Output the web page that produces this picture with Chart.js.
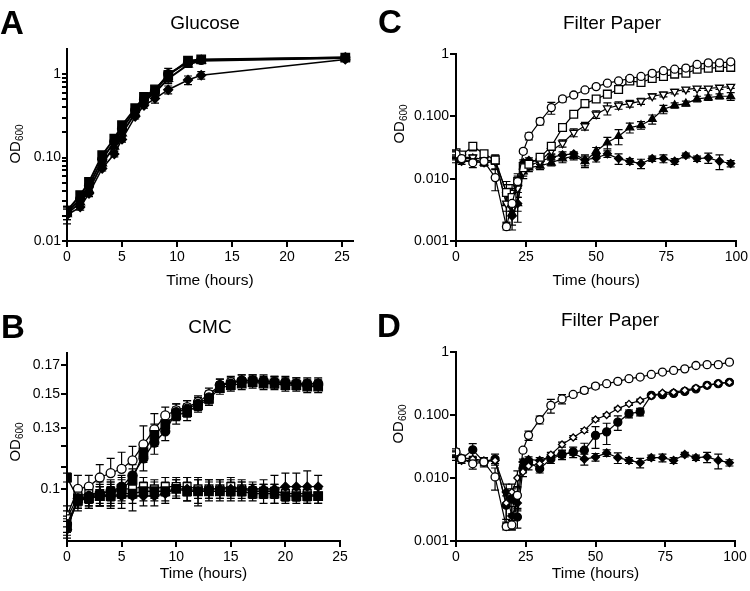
<!DOCTYPE html>
<html>
<head>
<meta charset="utf-8">
<script src="https://cdn.jsdelivr.net/npm/chart.js@4.4.1/dist/chart.umd.min.js"></script>
<style>
  body { margin: 0; background: #fff; width: 750px; height: 591px; position: relative; overflow: hidden;
         font-family: "Liberation Sans", Arial, sans-serif; color: #000; }
  canvas { position: absolute; }
  .letter { position: absolute; font-weight: bold; font-size: 33px; line-height: 1; }
  .title { position: absolute; font-size: 19px; transform: translate(-50%, -50%); white-space: nowrap; }
  .ylab { position: absolute; font-size: 15px; transform: translate(-50%, -50%) rotate(-90deg); white-space: nowrap; }
  .ylab sub { font-size: 10px; vertical-align: -3px; }
</style>
</head>
<body>
<canvas id="chartA" width="375" height="295" style="left:0;top:0"></canvas>
<canvas id="chartC" width="375" height="295" style="left:375px;top:0"></canvas>
<canvas id="chartB" width="375" height="296" style="left:0;top:295px"></canvas>
<canvas id="chartD" width="375" height="296" style="left:375px;top:295px"></canvas>

<div class="letter" style="left:0;top:6px">A</div>
<div class="letter" style="left:378px;top:5px">C</div>
<div class="letter" style="left:1px;top:310px">B</div>
<div class="letter" style="left:377px;top:309px">D</div>
<div class="title" style="left:205px;top:23px">Glucose</div>
<div class="title" style="left:612px;top:23px">Filter Paper</div>
<div class="title" style="left:210px;top:327px">CMC</div>
<div class="title" style="left:610px;top:320px">Filter Paper</div>
<div class="ylab" style="left:15px;top:144px">OD<sub>600</sub></div>
<div class="ylab" style="left:399px;top:124px">OD<sub>600</sub></div>
<div class="ylab" style="left:15px;top:442px">OD<sub>600</sub></div>
<div class="ylab" style="left:398px;top:424px">OD<sub>600</sub></div>

<script>
// ---------- A: Glucose ----------
const tA = [0, 1.2, 2, 3.2, 4.3, 5, 6.2, 7, 8, 9.2, 11, 12.2, 25.3];
const aSquares = [0.023, 0.0355, 0.051, 0.107, 0.169, 0.244, 0.39, 0.535, 0.655, 0.97, 1.45, 1.5, 1.58];
const aSquaresErr = [0.003, 0.003, 0.004, 0.008, 0.015, 0.02, 0.03, 0.05, 0.06, 0.2, 0.1, 0.08, 0.1];
const aCircles = [0.022, 0.032, 0.046, 0.095, 0.155, 0.22, 0.37, 0.5, 0.63, 1.0, 1.38, 1.48, 1.58];
const aCirclesErr = [0.004, 0.003, 0.004, 0.006, 0.01, 0.015, 0.03, 0.04, 0.05, 0.1, 0.08, 0.07, 0.08];
const aTriangles = [0.021, 0.029, 0.041, 0.085, 0.135, 0.195, 0.34, 0.47, 0.6, 0.88, 1.3, 1.45, 1.56];
const aTrianglesErr = [0.003, 0.004, 0.005, 0.008, 0.012, 0.018, 0.03, 0.04, 0.05, 0.08, 0.1, 0.08, 0.08];
const aDiamonds = [0.0205, 0.0255, 0.037, 0.074, 0.11, 0.165, 0.31, 0.42, 0.51, 0.65, 0.85, 0.97, 1.5];
const aDiamondsErr = [0.0045, 0.002, 0.003, 0.005, 0.008, 0.012, 0.02, 0.03, 0.06, 0.07, 0.1, 0.1, 0.06];
const xTicksA = [0, 5, 10, 15, 20, 25];
const yTicksA = [0.01, 0.02, 0.03, 0.04, 0.05, 0.06, 0.07, 0.08, 0.09, 0.1, 0.2, 0.3, 0.4, 0.5, 0.6, 0.7, 0.8, 0.9, 1];
const yLabelsA = ['0.01', '', '', '', '', '', '', '', '', '0.10', '', '', '', '', '', '', '', '', '1'];

// ---------- B: CMC ----------
const tB = [0, 1, 2, 3, 4, 5, 6, 7, 8, 9, 10, 11, 12, 13, 14, 15, 16, 17, 18, 19, 20, 21, 22, 23];
const bOpenCircles = [0.089, 0.1, 0.101, 0.105, 0.107, 0.109, 0.113, 0.121, 0.129, 0.137, 0.14, 0.142, 0.145, 0.15, 0.156, 0.158, 0.159, 0.159, 0.158, 0.158, 0.157, 0.157, 0.156, 0.156];
const bOpenCirclesErr = [0.004, 0.006, 0.005, 0.006, 0.007, 0.008, 0.007, 0.01, 0.009, 0.005, 0.004, 0.004, 0.004, 0.004, 0.004, 0.004, 0.004, 0.004, 0.004, 0.004, 0.004, 0.004, 0.004, 0.004];
const bFilledCircles = [0.086, 0.096, 0.097, 0.098, 0.099, 0.101, 0.106, 0.114, 0.122, 0.128, 0.139, 0.141, 0.144, 0.148, 0.156, 0.157, 0.159, 0.159, 0.159, 0.158, 0.158, 0.157, 0.157, 0.157];
const bFilledCirclesErr = [0.003, 0.004, 0.004, 0.005, 0.005, 0.005, 0.005, 0.006, 0.006, 0.005, 0.005, 0.005, 0.004, 0.004, 0.004, 0.004, 0.004, 0.004, 0.004, 0.004, 0.004, 0.004, 0.004, 0.004];
const bFilledSquares = [0.085, 0.095, 0.096, 0.097, 0.098, 0.1, 0.104, 0.117, 0.126, 0.132, 0.137, 0.139, 0.143, 0.147, 0.154, 0.156, 0.157, 0.158, 0.157, 0.157, 0.156, 0.156, 0.155, 0.155];
const bFilledSquaresErr = [0.003, 0.004, 0.004, 0.004, 0.005, 0.005, 0.005, 0.005, 0.006, 0.005, 0.005, 0.005, 0.004, 0.004, 0.004, 0.004, 0.004, 0.004, 0.004, 0.004, 0.004, 0.004, 0.004, 0.004];
const bFlatOpen = [0.088, 0.097, 0.098, 0.098, 0.099, 0.1, 0.1, 0.101, 0.1, 0.101, 0.101, 0.101, 0.1, 0.1, 0.1, 0.101, 0.1, 0.099, 0.099, 0.099, 0.098, 0.098, 0.098, 0.097];
const bFlatOpenErr = [0.003, 0.004, 0.004, 0.004, 0.004, 0.004, 0.004, 0.004, 0.004, 0.004, 0.004, 0.004, 0.004, 0.004, 0.004, 0.004, 0.003, 0.003, 0.003, 0.003, 0.003, 0.003, 0.003, 0.003];
const bFlatFilled = [0.105, 0.096, 0.096, 0.097, 0.097, 0.098, 0.098, 0.099, 0.099, 0.099, 0.1, 0.099, 0.099, 0.099, 0.099, 0.099, 0.099, 0.098, 0.098, 0.098, 0.097, 0.097, 0.097, 0.097];
const bFlatFilledErr = [0.002, 0.004, 0.004, 0.004, 0.004, 0.004, 0.004, 0.004, 0.004, 0.004, 0.004, 0.004, 0.005, 0.004, 0.004, 0.004, 0.004, 0.003, 0.004, 0.004, 0.003, 0.003, 0.003, 0.003];
const bFlatDiamonds = [0.084, 0.096, 0.097, 0.097, 0.097, 0.097, 0.097, 0.097, 0.097, 0.098, 0.1, 0.1, 0.099, 0.1, 0.1, 0.1, 0.1, 0.1, 0.1, 0.1, 0.101, 0.101, 0.101, 0.101];
const bFlatDiamondsErr = [0.003, 0.004, 0.004, 0.004, 0.005, 0.005, 0.006, 0.004, 0.004, 0.004, 0.004, 0.005, 0.006, 0.004, 0.004, 0.004, 0.004, 0.003, 0.004, 0.006, 0.006, 0.006, 0.007, 0.005];
const xTicksB = [0, 5, 10, 15, 20, 25];
const yTicksB = [0.1, 0.11, 0.12, 0.13, 0.15, 0.17];
const yLabelsB = ['0.1', '', '', '0.13', '0.15', '0.17'];

// ---------- C and D: Filter Paper ----------
const tC = [0, 2, 6, 10, 14, 18, 20, 22, 24, 26, 30, 34, 38, 42, 46, 50, 54, 58, 62, 66, 70, 74, 78, 82, 86, 90, 94, 98];
const cOpenCircles = [0.025, 0.021, 0.018, 0.019, 0.0104, 0.0017, 0.004, 0.009, 0.0275, 0.048, 0.083, 0.138, 0.19, 0.22, 0.265, 0.3, 0.34, 0.37, 0.405, 0.436, 0.49, 0.54, 0.57, 0.595, 0.68, 0.72, 0.72, 0.75];
const cOpenCirclesErr = [0.003, 0.002, 0.003, 0.002, 0.004, 0.0002, 0.001, 0.002, 0.002, 0.006, 0.01, 0.03, 0.02, 0.015, 0.02, 0.02, 0.02, 0.02, 0.02, 0.02, 0.02, 0.03, 0.02, 0.02, 0.03, 0.03, 0.02, 0.03];
const cOpenSquares = [0.026, 0.024, 0.033, 0.025, 0.02, 0.006, 0.005, 0.009, 0.015, 0.017, 0.022, 0.033, 0.066, 0.108, 0.16, 0.19, 0.227, 0.27, 0.37, 0.35, 0.405, 0.436, 0.476, 0.49, 0.57, 0.59, 0.61, 0.61];
const cOpenSquaresErr = [0.003, 0.003, 0.005, 0.003, 0.003, 0.003, 0.002, 0.003, 0.003, 0.002, 0.002, 0.003, 0.005, 0.01, 0.01, 0.01, 0.015, 0.02, 0.02, 0.02, 0.02, 0.02, 0.02, 0.02, 0.03, 0.03, 0.03, 0.03];
const cOpenTriangles = [0.024, 0.022, 0.022, 0.02, 0.019, 0.004, 0.006, 0.007, 0.013, 0.016, 0.019, 0.028, 0.037, 0.055, 0.07, 0.108, 0.135, 0.15, 0.16, 0.175, 0.21, 0.225, 0.25, 0.27, 0.28, 0.28, 0.29, 0.3];
const cOpenTrianglesErr = [0.003, 0.002, 0.002, 0.002, 0.002, 0.002, 0.002, 0.002, 0.002, 0.002, 0.002, 0.003, 0.005, 0.008, 0.01, 0.015, 0.03, 0.02, 0.02, 0.02, 0.02, 0.02, 0.02, 0.02, 0.02, 0.02, 0.02, 0.02];
const cFilledTriangles = [0.022, 0.021, 0.021, 0.018, 0.019, 0.004, 0.0028, 0.004, 0.013, 0.015, 0.016, 0.018, 0.021, 0.023, 0.019, 0.0276, 0.038, 0.048, 0.066, 0.072, 0.09, 0.13, 0.15, 0.16, 0.19, 0.2, 0.21, 0.21];
const cFilledTrianglesErr = [0.002, 0.002, 0.002, 0.002, 0.005, 0.002, 0.001, 0.002, 0.003, 0.002, 0.002, 0.002, 0.003, 0.003, 0.004, 0.004, 0.008, 0.013, 0.012, 0.01, 0.015, 0.02, 0.015, 0.015, 0.02, 0.02, 0.02, 0.03];
const cDiamonds = [0.02, 0.019, 0.019, 0.018, 0.019, 0.006, 0.0025, 0.004, 0.018, 0.0196, 0.019, 0.022, 0.024, 0.025, 0.02, 0.0215, 0.025, 0.021, 0.019, 0.0175, 0.021, 0.021, 0.019, 0.0236, 0.021, 0.0216, 0.019, 0.0175];
const cDiamondsErr = [0.002, 0.002, 0.002, 0.002, 0.002, 0.002, 0.001, 0.001, 0.002, 0.002, 0.002, 0.002, 0.003, 0.002, 0.004, 0.003, 0.003, 0.004, 0.002, 0.003, 0.002, 0.003, 0.002, 0.002, 0.002, 0.004, 0.005, 0.002];

const dOpenCircles = [0.026, 0.0203, 0.0168, 0.018, 0.0104, 0.0017, 0.0018, 0.0053, 0.0276, 0.0475, 0.084, 0.142, 0.18, 0.212, 0.246, 0.288, 0.314, 0.342, 0.377, 0.4, 0.44, 0.48, 0.51, 0.54, 0.61, 0.63, 0.63, 0.69];
const dOpenCirclesErr = [0.003, 0.002, 0.003, 0.002, 0.004, 0.0002, 0.0003, 0.002, 0.002, 0.008, 0.012, 0.035, 0.03, 0.015, 0.025, 0.025, 0.02, 0.02, 0.03, 0.02, 0.02, 0.02, 0.02, 0.02, 0.02, 0.02, 0.02, 0.03];
const dOpenDiamonds = [0.024, 0.021, 0.02, 0.019, 0.019, 0.004, 0.006, 0.01, 0.0125, 0.0155, 0.0168, 0.0235, 0.034, 0.044, 0.057, 0.085, 0.1, 0.126, 0.15, 0.17, 0.2, 0.226, 0.23, 0.246, 0.27, 0.296, 0.32, 0.33];
const dOpenDiamondsErr = [0.002, 0.002, 0.002, 0.002, 0.002, 0.002, 0.002, 0.003, 0.002, 0.002, 0.002, 0.002, 0.003, 0.003, 0.004, 0.005, 0.005, 0.006, 0.008, 0.008, 0.01, 0.01, 0.01, 0.01, 0.012, 0.012, 0.015, 0.015];
const dFilledCircles = [0.024, 0.02, 0.028, 0.018, 0.02, 0.0037, 0.0047, 0.0024, 0.0141, 0.018, 0.014, 0.02, 0.0236, 0.026, 0.0276, 0.0475, 0.054, 0.077, 0.105, 0.112, 0.205, 0.21, 0.22, 0.237, 0.26, 0.296, 0.314, 0.33];
const dFilledCirclesErr = [0.003, 0.002, 0.007, 0.003, 0.004, 0.0015, 0.002, 0.0008, 0.002, 0.002, 0.002, 0.003, 0.004, 0.005, 0.008, 0.018, 0.02, 0.02, 0.015, 0.015, 0.01, 0.01, 0.01, 0.012, 0.012, 0.012, 0.015, 0.02];
const dDiamonds = [0.021, 0.019, 0.019, 0.018, 0.019, 0.006, 0.0025, 0.004, 0.018, 0.0196, 0.019, 0.022, 0.024, 0.025, 0.02, 0.0215, 0.025, 0.021, 0.019, 0.0175, 0.021, 0.021, 0.019, 0.0236, 0.021, 0.0216, 0.019, 0.0175];
const dDiamondsErr = [0.002, 0.002, 0.002, 0.002, 0.002, 0.002, 0.001, 0.001, 0.002, 0.002, 0.002, 0.002, 0.003, 0.002, 0.004, 0.003, 0.003, 0.004, 0.002, 0.003, 0.002, 0.003, 0.002, 0.002, 0.002, 0.004, 0.005, 0.002];

const xTicksC = [0, 25, 50, 75, 100];
const yTicksC = [0.001, 0.01, 0.1, 1];
const yLabelsC = ['0.001', '0.010', '0.100', '1'];

// error bars drawn through the chart's own scales
const errorBars = {
  id: 'errorBars',
  beforeDatasetsDraw(chart) {
    const { ctx, scales: { x, y } } = chart;
    ctx.save();
    ctx.strokeStyle = '#000';
    ctx.lineWidth = 1.2;
    chart.data.datasets.forEach(ds => {
      if (!ds.errors) return;
      const cap = ds.errCap || 4;
      ds.data.forEach((p, i) => {
        const e = ds.errors[i];
        if (!e) return;
        const px = x.getPixelForValue(p.x);
        const top = y.getPixelForValue(p.y + e);
        const bot = y.getPixelForValue(Math.max(p.y - e, y.min));
        ctx.beginPath();
        ctx.moveTo(px, top);
        ctx.lineTo(px, ds.errUp ? y.getPixelForValue(p.y) : bot);
        ctx.moveTo(px - cap, top);
        ctx.lineTo(px + cap, top);
        if (!ds.errUp) {
          ctx.moveTo(px - cap, bot);
          ctx.lineTo(px + cap, bot);
        }
        ctx.stroke();
      });
    });
    ctx.restore();
  }
};

const series = (xs, ys, errs, shape, open, r, lw, extra = {}) => Object.assign({
  data: xs.map((x, i) => ({ x, y: ys[i] })),
  errors: errs,
  borderColor: '#000',
  borderWidth: lw,
  pointStyle: shape,
  pointRadius: r,
  pointBorderWidth: 1.3,
  pointBorderColor: '#000',
  pointBackgroundColor: open ? '#fff' : '#000',
  tension: 0,
  fill: false,
}, extra);

const font = { family: 'Liberation Sans, Arial, sans-serif', size: 14 };

const createPanel = (id, datasets, cfg) => new Chart(document.getElementById(id), {
  type: 'line',
  data: { datasets },
  options: {
    responsive: false,
    animation: false,
    events: [],
    layout: { padding: { left: 0, top: cfg.top, right: cfg.right, bottom: 0 } },
    plugins: { legend: { display: false }, tooltip: { enabled: false } },
    scales: {
      x: {
        type: 'linear',
        min: cfg.xMin, max: cfg.xMax,
        afterBuildTicks: s => { s.ticks = cfg.xTicks.map(v => ({ value: v })); },
        afterFit: s => { s.height = cfg.xHeight; },
        grid: { drawOnChartArea: false, drawTicks: true, tickLength: 6, color: '#000', lineWidth: 2 },
        border: { display: true, color: '#000', width: 2 },
        ticks: { color: '#000', font, padding: 2, autoSkip: false, maxRotation: 0 },
        title: { display: true, text: 'Time (hours)', color: '#000',
                 font: { family: font.family, size: 15.5 }, padding: { top: 0, bottom: cfg.titlePad } },
      },
      y: {
        type: 'logarithmic',
        min: cfg.yMin, max: cfg.yMax,
        bounds: 'data',
        afterBuildTicks: s => { s.ticks = cfg.yTicks.map(v => ({ value: v })); },
        afterFit: s => { s.width = cfg.left; },
        grid: { drawOnChartArea: false, drawTicks: true, tickLength: cfg.yTickLen || 6, color: '#000', lineWidth: 2 },
        border: { display: true, color: '#000', width: 2 },
        ticks: { color: '#000', font, padding: 1, autoSkip: false,
                 callback: (v, i) => cfg.yLabels[i] },
      },
    },
  },
  plugins: [errorBars],
});

createPanel('chartA', [
  series(tA, aSquares, aSquaresErr, 'rect', false, 6, 2),
  series(tA, aCircles, aCirclesErr, 'circle', false, 4.5, 2),
  series(tA, aTriangles, aTrianglesErr, 'triangle', false, 5, 2),
  series(tA, aDiamonds, aDiamondsErr, 'rectRot', false, 4.5, 1.5),
], { left: 67, right: 22, top: 49, xHeight: 54, titlePad: 5, xMin: 0, xMax: 26, yMin: 0.01, yMax: 2,
     xTicks: xTicksA, yTicks: yTicksA, yLabels: yLabelsA, yTickLen: 5 });

// first dataset is drawn on top, so filled markers come first here
createPanel('chartB', [
  series(tB, bFilledCircles, bFilledCirclesErr, 'circle', false, 4.5, 1.3),
  series(tB, bFilledSquares, bFilledSquaresErr, 'rect', false, 6, 1.3),
  series(tB, bFlatFilled, bFlatFilledErr, 'rect', false, 6, 1.3),
  series(tB, bFlatDiamonds, bFlatDiamondsErr, 'rectRot', false, 4.5, 1.3),
  series(tB, bFlatOpen, bFlatOpenErr, 'rect', true, 5.5, 1.3),
  series(tB, bOpenCircles, bOpenCirclesErr, 'circle', true, 4.5, 1.3, { errUp: true }),
], { left: 67, right: 35, top: 58, xHeight: 50, titlePad: 8, xMin: 0, xMax: 25, yMin: 0.08, yMax: 0.179,
     xTicks: xTicksB, yTicks: yTicksB, yLabels: yLabelsB });

createPanel('chartC', [
  series(tC, cOpenCircles, cOpenCirclesErr, 'circle', true, 4, 1.2),
  series(tC, cOpenSquares, cOpenSquaresErr, 'rect', true, 5.5, 1.2),
  series(tC, cOpenTriangles, cOpenTrianglesErr, 'triangle', true, 4.5, 1.2, { pointRotation: 180 }),
  series(tC, cFilledTriangles, cFilledTrianglesErr, 'triangle', false, 4.5, 1.2),
  series(tC, cDiamonds, cDiamondsErr, 'rectRot', false, 4, 1.2),
], { left: 81, right: 12, top: 54, xHeight: 54, titlePad: 5, xMin: 0, xMax: 100, yMin: 0.001, yMax: 1,
     xTicks: xTicksC, yTicks: yTicksC, yLabels: yLabelsC });

createPanel('chartD', [
  series(tC, dOpenCircles, dOpenCirclesErr, 'circle', true, 4, 1.2),
  series(tC, dOpenDiamonds, dOpenDiamondsErr, 'rectRot', true, 3.5, 1.2),
  series(tC, dFilledCircles, dFilledCirclesErr, 'circle', false, 4, 1.2),
  series(tC, dDiamonds, dDiamondsErr, 'rectRot', false, 4, 1.2),
], { left: 81, right: 15, top: 57, xHeight: 50, titlePad: 8, xMin: 0, xMax: 100, yMin: 0.001, yMax: 1,
     xTicks: xTicksC, yTicks: yTicksC, yLabels: yLabelsC });
</script>
</body>
</html>
